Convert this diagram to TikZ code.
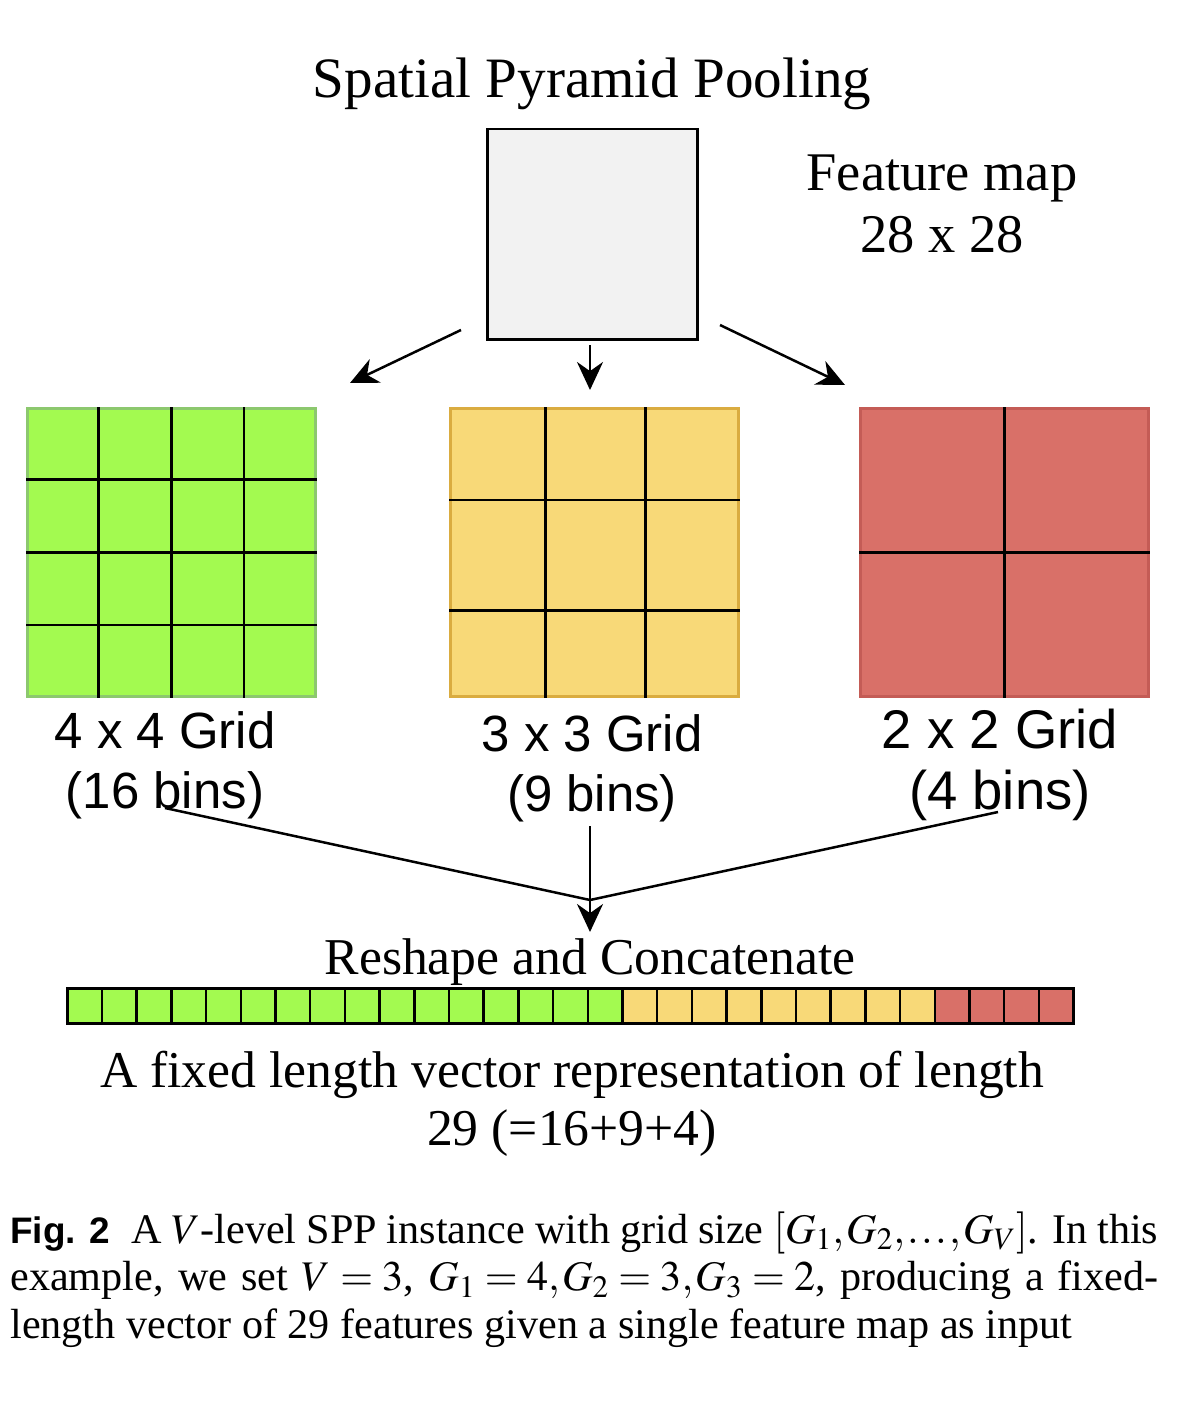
\documentclass[tikz,border=0pt]{standalone}
\usepackage{mathptmx}
\usepackage[no-math]{fontspec}
\setmainfont{Liberation Serif}
\setsansfont{Liberation Sans}
\usetikzlibrary{positioning,arrows.meta,calc}

\newcommand{\pu}{0.02cm}
\definecolor{binGreen}{RGB}{163,250,80}
\definecolor{binGreenEdge}{RGB}{140,200,110}
\definecolor{binYellow}{RGB}{248,217,120}
\definecolor{binYellowEdge}{RGB}{218,172,64}
\definecolor{binRed}{RGB}{217,112,104}
\definecolor{binRedEdge}{RGB}{196,92,86}
\definecolor{mapGray}{RGB}{242,242,242}

\begin{document}
\begin{tikzpicture}[
x=\pu, y=-\pu,
>={Stealth[length=28*\pu, width=26*\pu]},
flow/.style={->, line width=2.5*\pu},
grid/.style={
  draw,
  line width=2.5*\pu,
  minimum width=288*\pu,
  minimum height=288*\pu,
  inner sep=0pt,
  anchor=north west
  },
cell/.style={
  draw=black,
  line width=2.5*\pu,
  minimum width=34.7*\pu,
  minimum height=35*\pu,
  inner sep=0pt,
  anchor=north west
  },
serifbig/.style={font=\fontsize{29.4pt}{34pt}\selectfont, inner sep=0pt, anchor=base},
sanslab/.style={font=\sffamily\fontsize{29pt}{33pt}\selectfont, inner sep=0pt, anchor=base}
]
\useasboundingbox (0,0) rectangle (1200,1406);

% title and input map
\node[serifbig, font=\fontsize{32.5pt}{36pt}\selectfont] (title) at (592,98) {Spatial Pyramid Pooling};
\node[draw, fill=mapGray, line width=2.5*\pu, minimum width=210*\pu,
  minimum height=210*\pu, inner sep=0pt, anchor=north west] (fmap) at (486,128) {};
\node[serifbig, font=\fontsize{31pt}{34pt}\selectfont] (fmaplab) at (942,190) {Feature map};
\node[serifbig, font=\fontsize{31pt}{34pt}\selectfont] (fmapsize) at (942,252) {28 x 28};

% three pooling grids
\node[grid, fill=binGreen, draw=binGreenEdge] (g4) at (26,407) {};
\node[grid, fill=binYellow, draw=binYellowEdge] (g3) at (449,407) {};
\node[grid, fill=binRed, draw=binRedEdge] (g2) at (859,407) {};
\foreach \i in {1,2,3}
{
  \draw[line width=2.5*\pu] ($(g4.north west)!\i/4!(g4.north east)$) -- ($(g4.south west)!\i/4!(g4.south east)$);
  \draw[line width=2.5*\pu] ($(g4.north west)!\i/4!(g4.south west)$) -- ($(g4.north east)!\i/4!(g4.south east)$);
}
\foreach \v/\h in {0.333/0.32,0.677/0.70}
{
  \draw[line width=2.5*\pu] ($(g3.north west)!\v!(g3.north east)$) -- ($(g3.south west)!\v!(g3.south east)$);
  \draw[line width=2.5*\pu] ($(g3.north west)!\h!(g3.south west)$) -- ($(g3.north east)!\h!(g3.south east)$);
}
\draw[line width=2.5*\pu] (g2.north) -- (g2.south);
\draw[line width=2.5*\pu] (g2.west) -- (g2.east);

\node[sanslab] (g4lab) at (165,748) {4 x 4 Grid};
\node[sanslab] (g4bins) at (165,808) {(16 bins)};
\node[sanslab] (g3lab) at (592,751) {3 x 3 Grid};
\node[sanslab] (g3bins) at (592,811) {(9 bins)};
\node[sanslab, font=\sffamily\fontsize{31pt}{34pt}\selectfont] (g2lab) at (1000,748) {2 x 2 Grid};
\node[sanslab, font=\sffamily\fontsize{31pt}{34pt}\selectfont] (g2bins) at (1000,809) {(4 bins)};

% arrows from the map
\coordinate (outL) at (461,330);
\coordinate (inL) at (350,383);
\coordinate (outM) at (590,345);
\coordinate (inM) at (590,390);
\coordinate (outR) at (720,325);
\coordinate (inR) at (845,385);
\draw[flow] (outL) -- (inL);
\draw[flow] (outM) -- (inM);
\draw[flow] (outR) -- (inR);

% merge into the vector
\coordinate (fromL) at (165,808);
\coordinate (fromM) at (590,826);
\coordinate (fromR) at (998,812);
\coordinate (join) at (590,900);
\coordinate (intoVec) at (590,932);
\draw[line width=2.5*\pu] (fromL) -- (join) -- (fromR);
\draw[flow] (fromM) -- (intoVec);

\node[serifbig] (concat) at (590,974) {Reshape and Concatenate};

% the 29-long vector
\foreach \i in {0,...,28}
{
  \ifnum\i<16 \def\binfill{binGreen}\else
    \ifnum\i<25 \def\binfill{binYellow}\else \def\binfill{binRed}\fi\fi
  \node[cell, fill=\binfill] (cell-\i) at (66+34.7*\i,987) {};
}

\node[serifbig] (veclab) at (572,1087) {A fixed length vector representation of length};
\node[serifbig] (veclen) at (572,1145) {29 (=16+9+4)};

% caption
\node[inner sep=0pt, anchor=base west, font=\fontsize{24pt}{27.2pt}\selectfont] (caption) at (10,1243)
  {\parbox[t]{1148\dimexpr\pu\relax}{\thinmuskip=1mu\medmuskip=3mu\thickmuskip=4mu
  \makebox[\linewidth][s]{{\sffamily\bfseries\fontsize{21pt}{24pt}\selectfont Fig. 2}\enspace A $V$-level SPP instance with grid size $[G_1,G_2,\ldots,G_V]$. In this}\\
  \makebox[\linewidth][s]{example, we set $V=3$, $G_1=4,G_2=3,G_3=2$, producing a fixed-}\\
  length vector of 29 features given a single feature map as input}};
\end{tikzpicture}
\end{document}
